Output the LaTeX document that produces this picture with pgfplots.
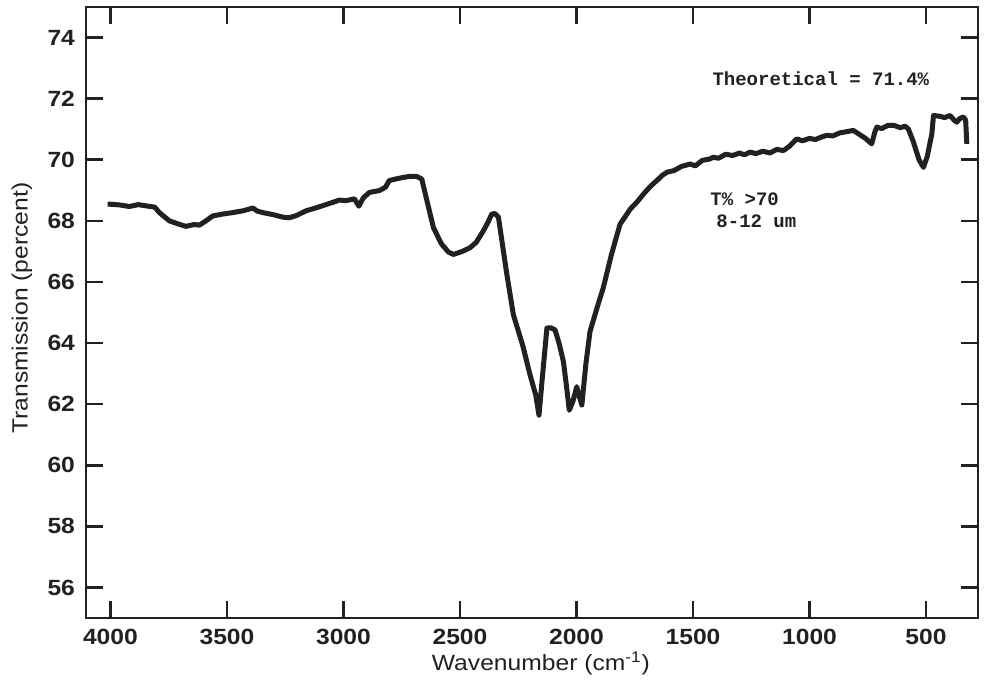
\documentclass[border=0pt]{standalone}
\usepackage{fontspec}
\usepackage{pgfplots}
\pgfplotsset{compat=1.18}
\setmainfont{Liberation Sans}
\newfontfamily\hv[FakeStretch=1.12]{Liberation Sans}
\newfontfamily\mono{Liberation Mono}
\definecolor{ink}{gray}{0.13}
\begin{document}
\begin{tikzpicture}
\begin{axis}[
  scale only axis,
  width=446pt, height=305.5pt,
  x dir=reverse,
  xmin=277, xmax=4105, ymin=55, ymax=75,
  xtick={500,1000,...,4000},
  ytick={56,58,...,74},
  tick align=inside,
  major tick length=8.5pt,
  axis line style={line width=1.4pt, ink},
  every tick/.style={line width=1.3pt, ink},
  /pgf/number format/assume math mode=true,
  /pgf/number format/1000 sep={},
  ticklabel style={font=\hv\bfseries\fontsize{11}{13}\selectfont, text=ink},
  xticklabel style={yshift=-2pt},
  yticklabel style={xshift=-2pt},
  xlabel={Wavenumber (cm\textsuperscript{-1})},
  ylabel={Transmission (percent)},
  label style={font=\hv\fontsize{11}{13}\selectfont, text=ink},
  x label style={at={(axis description cs:0.51,-0.075)}, anchor=center},
  y label style={at={(axis description cs:-0.0717,0.507)}, anchor=center, rotate=0},
  clip=false,
]
\addplot[line width=2.5pt, ink, line join=round] coordinates {
(4012,68.55) (3960,68.52) (3920,68.47) (3880,68.53) (3847,68.49) (3810,68.45)
(3790,68.27) (3747,68.00) (3710,67.90) (3676,67.82) (3640,67.88) (3618,67.86)
(3590,68.00) (3561,68.16) (3520,68.22) (3475,68.27) (3430,68.33) (3389,68.42)
(3370,68.32) (3346,68.27) (3300,68.20) (3260,68.12) (3232,68.10) (3200,68.18)
(3160,68.33) (3120,68.42) (3080,68.52) (3040,68.62) (3018,68.68) (2990,68.66)
(2953,68.72) (2934,68.48) (2915,68.75) (2889,68.93) (2846,68.99) (2820,69.10)
(2803,69.32) (2770,69.38) (2745,69.42) (2710,69.46) (2685,69.45) (2664,69.37)
(2640,68.60) (2614,67.78) (2580,67.25) (2550,66.98) (2528,66.90) (2490,67.00)
(2457,67.12) (2430,67.30) (2400,67.67) (2380,67.95) (2364,68.22) (2350,68.24)
(2335,68.12) (2300,66.30) (2271,64.93) (2230,63.90) (2199,62.95) (2175,62.30)
(2161,61.64) (2145,63.00) (2127,64.49) (2110,64.50) (2092,64.43) (2075,64.00)
(2056,63.39) (2040,62.40) (2031,61.80) (2015,62.10) (1999,62.57) (1990,62.30)
(1977,61.97) (1960,63.30) (1942,64.38) (1910,65.20) (1885,65.81) (1850,66.90)
(1813,67.89) (1790,68.15) (1770,68.38) (1740,68.62) (1710,68.90) (1680,69.15)
(1655,69.32) (1630,69.50) (1612,69.59) (1580,69.65) (1550,69.78) (1512,69.86)
(1490,69.80) (1460,69.98) (1430,70.02) (1413,70.08) (1390,70.05) (1360,70.18)
(1330,70.14) (1300,70.22) (1280,70.16) (1255,70.25) (1230,70.20) (1200,70.28)
(1170,70.22) (1140,70.34) (1112,70.30) (1085,70.45) (1055,70.68) (1030,70.62)
(1000,70.70) (975,70.66) (950,70.74) (926,70.80) (900,70.78) (870,70.88)
(840,70.92) (812,70.96) (790,70.85) (760,70.70) (733,70.52) (720,70.90)
(711,71.07) (690,71.02) (665,71.12) (640,71.13) (610,71.05) (590,71.10)
(576,71.01) (555,70.60) (530,70.00) (511,69.75) (495,70.10) (475,70.85)
(468,71.45) (440,71.42) (420,71.38) (397,71.45) (380,71.30) (368,71.23)
(355,71.35) (340,71.40) (330,71.30) (325,70.52)
};
\node[anchor=west, font=\mono\bfseries\fontsize{9.5}{11}\selectfont, text=ink, inner sep=0pt] at (axis cs:1418,72.65) {Theoretical = 71.4\%};
\node[anchor=west, font=\mono\bfseries\fontsize{9.5}{11}\selectfont, text=ink, inner sep=0pt] at (axis cs:1427,68.70) {T\% >70};
\node[anchor=west, font=\mono\bfseries\fontsize{9.5}{11}\selectfont, text=ink, inner sep=0pt] at (axis cs:1401,67.98) {8-12 um};
\end{axis}
\pgfresetboundingbox
\path ([shift={(-43pt,-34pt)}]current axis.south west) rectangle ([shift={(7.5pt,3.5pt)}]current axis.north east);
\end{tikzpicture}
\end{document}
